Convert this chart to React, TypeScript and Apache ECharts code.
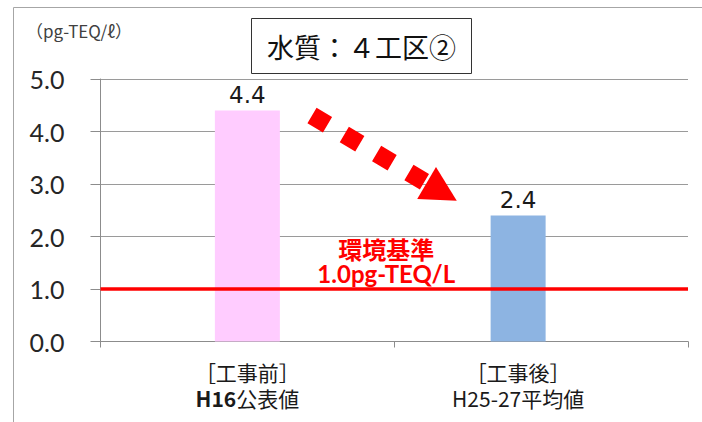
import React, { useEffect, useRef } from "react";
import * as echarts from "echarts";

// Dioxin concentration in water, work zone 4 (pg-TEQ/ℓ)
const phases = ["［工事前］", "［工事後］"];
const periods = ["H16", "H25-27"];
const periodKinds = ["公表値", "平均値"];
const periodBold = [true, false];
const beforeValues = [4.4, "-"];
const afterValues = ["-", 2.4];
const standardValue = 1.0;
const standardLines = ["環境基準", "1.0pg-TEQ/L"];
const yTicks = { min: 0, max: 5, interval: 1 };
const titleText = "水質：４工区②";
const unitText = "（pg-TEQ/ℓ）";

const CJK = '"Noto Sans CJK JP", "Noto Sans", sans-serif';
const LATIN = 'Lato, "Noto Sans", sans-serif';

function categoryLabel(index: number) {
  const period = periodBold[index] ? `{pb|${periods[index]}}` : `{p|${periods[index]}}`;
  return `{h|${phases[index]}}\n${period}{p|${periodKinds[index]}}`;
}

function buildArrow() {
  // dashed diagonal arrow between the two bars
  const x0 = 312;
  const y0 = 115.5;
  const ang = (30.5 * Math.PI) / 180;
  const ux = Math.cos(ang);
  const uy = Math.sin(ang);
  const dashLen = 130.5;
  const x1 = x0 + ux * dashLen;
  const y1 = y0 + uy * dashLen;
  const bx = x1 + ux * 2.5;
  const by = y1 + uy * 2.5;
  const half = 18.5;
  const tipLen = 35;
  return [
    {
      type: "line",
      silent: true,
      shape: { x1: x0, y1: y0, x2: x1, y2: y1 },
      style: { stroke: "#FF0000", lineWidth: 18, lineDash: [18, 19.5], lineCap: "butt" },
      z: 10,
    },
    {
      type: "polygon",
      silent: true,
      shape: {
        points: [
          [bx - uy * half, by + ux * half],
          [bx + uy * half, by - ux * half],
          [bx + ux * tipLen, by + uy * tipLen],
        ],
      },
      style: { fill: "#FF0000" },
      z: 10,
    },
  ];
}

export default function App() {
  const ref = useRef<HTMLDivElement>(null);

  useEffect(() => {
    if (!ref.current) return;
    const chart = echarts.init(ref.current, null, { renderer: "svg" });

    const labelRich = {
      h: { fontFamily: CJK, fontSize: 21, color: "#1a1a1a", lineHeight: 26 },
      p: { fontFamily: CJK, fontSize: 21, color: "#1a1a1a", lineHeight: 26 },
      pb: { fontFamily: CJK, fontSize: 21, fontWeight: "bold", color: "#1a1a1a", lineHeight: 26 },
    };

    const plotTop = 79;
    const plotHeight = 262.5;
    const plotWidth = 587.5;

    chart.setOption({
      animation: false,
      backgroundColor: "#ffffff",
      grid: [
        { left: 100.5, top: plotTop, width: plotWidth, height: plotHeight },
        { left: 77.5, top: plotTop, width: plotWidth, height: plotHeight },
      ],
      xAxis: [
        {
          type: "category",
          gridIndex: 0,
          data: phases,
          axisLine: { lineStyle: { color: "#8c8c8c", width: 1 } },
          axisTick: { show: true, length: 6, lineStyle: { color: "#8c8c8c" } },
          axisLabel: {
            margin: 17,
            formatter: (_v: string, i: number) => (i === 0 ? categoryLabel(i) : ""),
            rich: labelRich,
          },
        },
        {
          type: "category",
          gridIndex: 1,
          data: phases,
          axisLine: { show: false },
          axisTick: { show: false },
          axisLabel: {
            margin: 17,
            formatter: (_v: string, i: number) => (i === 1 ? categoryLabel(i) : ""),
            rich: labelRich,
          },
        },
      ],
      yAxis: [
        {
          type: "value",
          gridIndex: 0,
          min: yTicks.min,
          max: yTicks.max,
          interval: yTicks.interval,
          axisLine: { show: true, lineStyle: { color: "#8c8c8c" } },
          axisTick: { show: true, length: 10, lineStyle: { color: "#8c8c8c" } },
          splitLine: { lineStyle: { color: "#9a9a9a", width: 1 } },
          axisLabel: {
            margin: 36,
            fontFamily: LATIN,
            fontSize: 25,
            color: "#262626",
            formatter: (v: number) => v.toFixed(1),
          },
        },
        {
          type: "value",
          gridIndex: 1,
          min: yTicks.min,
          max: yTicks.max,
          interval: yTicks.interval,
          show: false,
        },
      ],
      series: [
        {
          name: phases[0],
          type: "bar",
          xAxisIndex: 0,
          yAxisIndex: 0,
          data: beforeValues,
          barWidth: 65,
          itemStyle: { color: "#FFCCFF" },
          label: {
            show: true,
            position: "top",
            distance: 4,
            fontFamily: '"DejaVu Sans", sans-serif',
            fontSize: 23,
            color: "#1a1a1a",
            formatter: (p: any) => Number(p.value).toFixed(1),
          },
          markLine: {
            silent: true,
            symbol: "none",
            lineStyle: { color: "#FF0000", width: 3.5, type: "solid" },
            label: {
              show: true,
              position: "middle",
              distance: 3,
              offset: [-8, 0],
              formatter: `{a|${standardLines[0]}}\n{b|${standardLines[1]}}`,
              rich: {
                a: { fontFamily: CJK, fontSize: 24, fontWeight: "bold", color: "#FF0000", lineHeight: 25, align: "center" },
                b: { fontFamily: LATIN, fontSize: 24, fontWeight: "bold", color: "#FF0000", lineHeight: 25, align: "center" },
              },
            },
            data: [{ yAxis: standardValue }],
            z: 5,
          },
        },
        {
          name: phases[1],
          type: "bar",
          xAxisIndex: 1,
          yAxisIndex: 1,
          data: afterValues,
          barWidth: 55,
          itemStyle: { color: "#8DB4E2" },
          label: {
            show: true,
            position: "top",
            distance: 4,
            fontFamily: '"DejaVu Sans", sans-serif',
            fontSize: 23,
            color: "#1a1a1a",
            formatter: (p: any) => Number(p.value).toFixed(1),
          },
        },
      ],
      graphic: [
        {
          type: "rect",
          silent: true,
          shape: { x: 13.5, y: 7.5, width: 1000, height: 1000 },
          style: { fill: "none", stroke: "#a6a6a6", lineWidth: 1 },
          z: -1,
        },
        {
          type: "text",
          silent: true,
          left: 26,
          top: 22,
          style: { text: unitText, fontFamily: CJK, fontSize: 17, fill: "#404040" },
        },
        {
          type: "rect",
          silent: true,
          shape: { x: 251.5, y: 18.5, width: 220, height: 55 },
          style: { fill: "#ffffff", stroke: "#333333", lineWidth: 1 },
          z: 20,
        },
        {
          type: "text",
          silent: true,
          x: 361.5,
          y: 46,
          style: {
            text: titleText,
            fontFamily: CJK,
            fontSize: 27,
            fill: "#111111",
            align: "center",
            verticalAlign: "middle",
          },
          z: 21,
        },
        ...buildArrow(),
      ],
    });

    return () => chart.dispose();
  }, []);

  return (
    <div
      ref={ref}
      style={{ position: "absolute", left: 0, top: 0, width: 702, height: 422 }}
    />
  );
}
